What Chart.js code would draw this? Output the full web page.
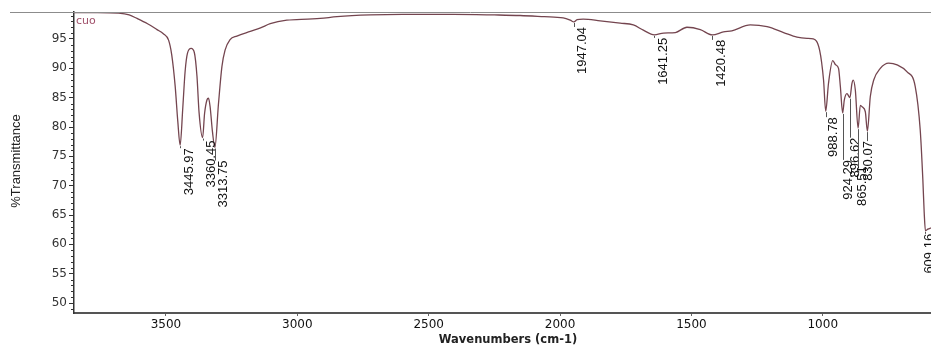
<!DOCTYPE html>
<html lang="en">
<head>
    <meta charset="UTF-8">
    <title>CuO FTIR spectrum</title>
    <script src="https://cdn.jsdelivr.net/npm/chart.js"></script>
    <style>
        body {
            margin: 0;
            padding: 0;
            background-color: #ffffff;
        }
        #irChart {
            display: block;
        }
    </style>
</head>
<body>
    <canvas id="irChart" width="931" height="349"></canvas>
    <script>
        // spectrum (wavenumber in cm-1, %T)
        const wavenumbers = [3850, 3760, 3680, 3640, 3610, 3570, 3534, 3510, 3490, 3478, 3465, 3455, 3445.97, 3436, 3427, 3418, 3404, 3392, 3382, 3374, 3360.45, 3353, 3344, 3338, 3332, 3323, 3313.75, 3300, 3287, 3275, 3256, 3230, 3179, 3140, 3103, 3040, 2960, 2913, 2849, 2723, 2600, 2407, 2250, 2152, 2060, 1988, 1961, 1947.04, 1935, 1912, 1847, 1771, 1721, 1683, 1641.25, 1606, 1561, 1517, 1466, 1420.48, 1378, 1346, 1276, 1212, 1149, 1098, 1060, 1036, 1012, 997, 988.78, 978, 962, 951, 940, 933, 924.29, 918, 908, 896.62, 889, 884, 876, 865.51, 857, 849, 838, 830.07, 819, 806, 781, 749, 717, 679, 648, 629, 619, 614, 609.16, 600, 588];
        const transmittance = [99.5, 99.5, 99.4, 99.1, 98.5, 97.6, 96.6, 95.9, 94.8, 92.3, 87.0, 81.0, 76.9, 83.2, 89.5, 92.6, 93.4, 92.7, 88.7, 82.5, 78.2, 82.3, 84.6, 84.9, 83.5, 79.2, 76.5, 84.0, 90.3, 93.1, 94.9, 95.5, 96.3, 96.9, 97.6, 98.2, 98.4, 98.5, 98.8, 99.1, 99.2, 99.2, 99.1, 99.0, 98.8, 98.6, 98.2, 97.9, 98.3, 98.4, 98.1, 97.7, 97.4, 96.5, 95.7, 96.0, 96.1, 97.0, 96.6, 95.7, 96.2, 96.4, 97.4, 97.1, 96.1, 95.3, 95.1, 95.0, 93.1, 88.0, 82.7, 87.5, 91.3, 90.6, 90.0, 86.9, 82.4, 84.6, 85.7, 85.0, 87.4, 88.0, 86.3, 79.8, 83.7, 83.4, 82.6, 79.3, 85.2, 88.0, 90.0, 90.9, 90.6, 89.4, 86.9, 79.5, 71.0, 65.5, 62.3, 62.6, 62.8];

        const peakWavenumbers = [3445.97, 3360.45, 3313.75, 1947.04, 1641.25, 1420.48, 988.78, 924.29, 896.62, 865.51, 830.07, 609.16];
        const peakLabels = ['3445.97', '3360.45', '3313.75', '1947.04', '1641.25', '1420.48', '988.78', '924.29', '896.62', '865.51', '830.07', '609.16'];

        const xTickValues = [3500, 3000, 2500, 2000, 1500, 1000];
        const yTickValues = [50, 55, 60, 65, 70, 75, 80, 85, 90, 95];

        // label placement (px): shift right of the peak, gap below the peak
        const labelShift = [9, 9, 9, 8, 9, 9, 8, 6, 6, 4, 1, 4];
        const labelDrop = [3, 3, 13, 5, 3, 5, 6, 47, 40, 38, 10, 3];

        const points = wavenumbers.map((w, i) => ({ x: w, y: transmittance[i] }));

        const decorPlugin = {
            id: 'decor',
            afterDraw(chart) {
                const ctx = chart.ctx;
                const area = chart.chartArea;
                const xs = chart.scales.x;
                const ys = chart.scales.y;
                ctx.save();

                // top frame line
                ctx.strokeStyle = '#8c8c8c';
                ctx.lineWidth = 1;
                ctx.beginPath();
                ctx.moveTo(10, area.top + 0.5);
                ctx.lineTo(chart.width, area.top + 0.5);
                ctx.stroke();

                // minor ticks on the %T axis
                ctx.strokeStyle = '#333';
                ctx.beginPath();
                for (let v = 49; v <= 99; v++) {
                    if (v % 5 === 0) continue;
                    const py = Math.round(ys.getPixelForValue(v)) + 0.5;
                    ctx.moveTo(area.left - 3, py);
                    ctx.lineTo(area.left, py);
                }
                ctx.stroke();

                // axis titles
                ctx.fillStyle = '#222';
                ctx.font = 'bold 11.5px "DejaVu Sans"';
                ctx.textAlign = 'center';
                ctx.textBaseline = 'middle';
                ctx.fillText('Wavenumbers (cm-1)', 508, 340);

                ctx.save();
                ctx.translate(16, 161);
                ctx.rotate(-Math.PI / 2);
                ctx.font = '13px "Liberation Sans"';
                ctx.fillText('%Transmittance', 0, 0);
                ctx.restore();

                // sample name
                ctx.fillStyle = '#a0506a';
                ctx.font = '11px "DejaVu Sans"';
                ctx.textAlign = 'left';
                ctx.textBaseline = 'alphabetic';
                ctx.fillText('cuo', area.left + 2, 24);

                // peak labels
                ctx.font = '13px "Liberation Sans"';
                peakWavenumbers.forEach((w, i) => {
                    const idx = wavenumbers.indexOf(w);
                    const px = xs.getPixelForValue(w);
                    const py = ys.getPixelForValue(transmittance[idx]);
                    const top = py + labelDrop[i];
                    ctx.strokeStyle = '#555';
                    ctx.lineWidth = 1;
                    ctx.beginPath();
                    ctx.moveTo(Math.round(px) + 0.5, py + 1);
                    ctx.lineTo(Math.round(px) + 0.5, top);
                    ctx.stroke();
                    ctx.save();
                    ctx.translate(px + labelShift[i], top);
                    ctx.rotate(-Math.PI / 2);
                    ctx.fillStyle = '#111';
                    ctx.textAlign = 'right';
                    ctx.textBaseline = 'middle';
                    ctx.fillText(peakLabels[i], 0, 0);
                    ctx.restore();
                });

                ctx.restore();
            }
        };

        new Chart(document.getElementById('irChart'), {
            type: 'line',
            data: {
                datasets: [{
                    label: 'cuo',
                    data: points,
                    borderColor: '#74454f',
                    borderWidth: 1.3,
                    pointRadius: 0,
                    cubicInterpolationMode: 'monotone',
                    fill: false
                }]
            },
            options: {
                responsive: false,
                animation: false,
                layout: { padding: { top: 12, right: 0, left: 0, bottom: 0 } },
                plugins: {
                    legend: { display: false },
                    tooltip: { enabled: false }
                },
                scales: {
                    x: {
                        type: 'linear',
                        reverse: true,
                        min: 588,
                        max: 3850,
                        afterBuildTicks: scale => {
                            scale.ticks = xTickValues.map(v => ({ value: v }));
                        },
                        afterFit: scale => { scale.height = 36; },
                        grid: { drawOnChartArea: false, tickLength: 3, color: '#666' },
                        border: { color: '#555', width: 2 },
                        ticks: {
                            font: { family: 'DejaVu Sans', size: 12 },
                            color: '#111',
                            padding: 2,
                            maxRotation: 0,
                            callback: v => String(v)
                        }
                    },
                    y: {
                        min: 48.3,
                        max: 99.6,
                        afterBuildTicks: scale => {
                            scale.ticks = yTickValues.map(v => ({ value: v }));
                        },
                        afterFit: scale => { scale.width = 74; },
                        grid: { drawOnChartArea: false, tickLength: 5, color: '#333' },
                        border: { color: '#333', width: 1.5 },
                        ticks: {
                            font: { family: 'DejaVu Sans', size: 12 },
                            color: '#333',
                            padding: 2,
                            callback: v => String(v)
                        }
                    }
                }
            },
            plugins: [decorPlugin]
        });
    </script>
</body>
</html>
